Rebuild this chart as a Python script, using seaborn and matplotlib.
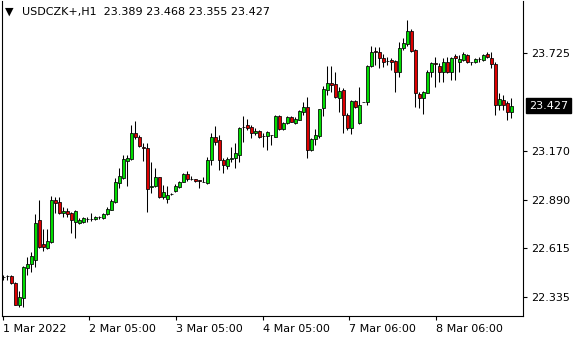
import numpy as np
import pandas as pd
import matplotlib
matplotlib.use("Agg")
import matplotlib.pyplot as plt
import matplotlib.transforms as mtransforms
import seaborn as sns

# ---- data (hourly OHLC) ----
opens = [22.450, 22.456, 22.456, 22.416, 22.291, 22.330, 22.501, 22.524, 22.547, 22.775,
         22.638, 22.615, 22.650, 22.889, 22.878, 22.815, 22.826, 22.815, 22.764, 22.758,
         22.764, 22.781, 22.781, 22.781, 22.792, 22.787, 22.809, 22.832, 22.878, 22.986,
         23.014, 23.111, 23.123, 23.271, 23.248, 23.191, 23.185, 22.963, 22.969, 23.020,
         22.906, 22.895, 22.923, 22.940, 22.963, 22.992, 23.037, 23.009, 23.009, 23.003,
         22.992, 22.986, 23.117, 23.248, 23.231, 23.117, 23.083, 23.123, 23.128, 23.146,
         23.305, 23.317, 23.305, 23.271, 23.282, 23.254, 23.254, 23.260, 23.248, 23.368,
         23.294, 23.328, 23.362, 23.328, 23.345, 23.391, 23.419, 23.174, 23.237, 23.254,
         23.413, 23.516, 23.556, 23.550, 23.470, 23.516, 23.374, 23.300, 23.453, 23.328,
         23.448, 23.448, 23.653, 23.738, 23.733, 23.698, 23.681, 23.687, 23.681, 23.619,
         23.755, 23.778, 23.852, 23.744, 23.493, 23.470, 23.499, 23.619, 23.670, 23.653,
         23.619, 23.676, 23.619, 23.710, 23.676, 23.687, 23.716, 23.676, 23.676, 23.693,
         23.687, 23.721, 23.698, 23.664, 23.431, 23.459, 23.442, 23.389]
highs = [22.462, 22.462, 22.462, 22.422, 22.370, 22.513, 22.564, 22.593, 22.809, 22.889,
         22.724, 22.724, 22.912, 22.906, 22.906, 22.849, 22.843, 22.821, 22.830, 22.787,
         22.792, 22.792, 22.815, 22.798, 22.798, 22.815, 22.849, 22.895, 23.014, 23.071,
         23.146, 23.146, 23.317, 23.339, 23.260, 23.214, 23.214, 23.106, 23.071, 23.022,
         22.975, 22.969, 22.929, 22.980, 22.997, 23.043, 23.054, 23.026, 23.011, 23.005,
         23.020, 23.134, 23.271, 23.311, 23.260, 23.128, 23.134, 23.191, 23.214, 23.305,
         23.368, 23.351, 23.317, 23.300, 23.288, 23.271, 23.282, 23.262, 23.374, 23.374,
         23.334, 23.368, 23.368, 23.362, 23.402, 23.448, 23.476, 23.240, 23.294, 23.410,
         23.539, 23.653, 23.653, 23.619, 23.533, 23.527, 23.385, 23.459, 23.459, 23.533,
         23.450, 23.659, 23.767, 23.761, 23.761, 23.721, 23.704, 23.698, 23.687, 23.790,
         23.812, 23.915, 23.864, 23.750, 23.505, 23.510, 23.630, 23.676, 23.704, 23.670,
         23.698, 23.704, 23.704, 23.721, 23.716, 23.733, 23.721, 23.678, 23.698, 23.704,
         23.721, 23.733, 23.733, 23.676, 23.499, 23.488, 23.453, 23.468]
lows = [22.433, 22.433, 22.410, 22.288, 22.279, 22.279, 22.462, 22.479, 22.507, 22.615,
        22.598, 22.610, 22.645, 22.815, 22.809, 22.792, 22.792, 22.701, 22.672, 22.752,
        22.760, 22.764, 22.769, 22.775, 22.781, 22.781, 22.804, 22.830, 22.872, 22.957,
        23.009, 22.969, 23.117, 23.237, 23.191, 23.111, 22.821, 22.929, 22.963, 22.900,
        22.895, 22.872, 22.918, 22.935, 22.960, 22.990, 22.997, 23.003, 22.992, 22.957,
        22.990, 22.980, 23.089, 23.203, 23.060, 23.043, 23.066, 23.106, 23.071, 23.106,
        23.220, 23.288, 23.242, 23.260, 23.242, 23.191, 23.174, 23.203, 23.246, 23.288,
        23.288, 23.322, 23.334, 23.322, 23.343, 23.374, 23.128, 23.168, 23.203, 23.242,
        23.368, 23.488, 23.505, 23.470, 23.391, 23.271, 23.288, 23.265, 23.413, 23.322,
        23.446, 23.431, 23.647, 23.659, 23.641, 23.647, 23.659, 23.630, 23.505, 23.590,
        23.744, 23.767, 23.733, 23.419, 23.413, 23.379, 23.497, 23.590, 23.533, 23.562,
        23.562, 23.613, 23.573, 23.573, 23.619, 23.681, 23.670, 23.659, 23.670, 23.676,
        23.681, 23.698, 23.641, 23.374, 23.402, 23.402, 23.345, 23.355]
closes = [22.451, 22.455, 22.416, 22.291, 22.336, 22.507, 22.524, 22.570, 22.758, 22.621,
          22.621, 22.655, 22.889, 22.872, 22.815, 22.826, 22.809, 22.775, 22.826, 22.775,
          22.787, 22.782, 22.781, 22.792, 22.793, 22.809, 22.838, 22.883, 22.992, 23.026,
          23.123, 23.128, 23.271, 23.248, 23.197, 23.185, 22.952, 22.969, 23.020, 22.906,
          22.935, 22.918, 22.924, 22.969, 22.992, 23.037, 23.009, 23.010, 22.997, 22.997,
          22.993, 23.117, 23.248, 23.220, 23.117, 23.089, 23.123, 23.128, 23.157, 23.300,
          23.306, 23.300, 23.271, 23.282, 23.248, 23.255, 23.277, 23.261, 23.368, 23.294,
          23.328, 23.362, 23.334, 23.351, 23.396, 23.419, 23.174, 23.237, 23.260, 23.408,
          23.522, 23.556, 23.545, 23.476, 23.510, 23.374, 23.300, 23.453, 23.419, 23.431,
          23.448, 23.653, 23.733, 23.733, 23.698, 23.676, 23.682, 23.676, 23.619, 23.755,
          23.784, 23.852, 23.738, 23.499, 23.470, 23.505, 23.619, 23.670, 23.664, 23.619,
          23.676, 23.619, 23.698, 23.698, 23.693, 23.721, 23.676, 23.677, 23.693, 23.694,
          23.716, 23.704, 23.664, 23.431, 23.465, 23.431, 23.391, 23.427]

time_labels = ["1 Mar 2022", "2 Mar 05:00", "3 Mar 05:00",
               "4 Mar 05:00", "7 Mar 06:00", "8 Mar 06:00"]
time_label_bars = [0, 21.4, 43.2, 64.9, 86.4, 108.2]
price_ticks = [22.335, 22.615, 22.890, 23.170, 23.725]
last_price = 23.427
symbol_title = "USDCZK+,H1  23.389 23.468 23.355 23.427"

# ---- styling ----
sns.set_style("white")
plt.rcParams['font.family'] = ['DejaVu Sans']

df = pd.DataFrame({"open": opens, "high": highs, "low": lows, "close": closes})
df["bar"] = np.arange(len(df))
df["bull"] = df["close"] >= df["open"]

fig = plt.figure(figsize=(5.8, 3.4), dpi=100)
fig.patch.set_facecolor("white")
ax = fig.add_axes([2 / 580, 24 / 340, 521 / 580, 315 / 340])
ax.set_facecolor("white")

# wicks
ax.vlines(df["bar"], df["low"], df["high"], color="black", linewidth=0.75, zorder=2)
# bodies
body_colors = ["#00dd00" if b else "#dd0000" for b in df["bull"]]
ax.bar(df["bar"], df["close"] - df["open"], bottom=df["open"], width=0.62,
       color=body_colors, edgecolor="black", linewidth=0.55, zorder=3)

ax.set_xlim(-0.325, 129.9)
ax.set_ylim(22.228, 24.023)

# y axis on the right
ax.yaxis.tick_right()
ax.set_yticks(price_ticks)
ax.set_yticklabels([f"{v:.3f}" for v in price_ticks])
ax.tick_params(axis="y", direction="out", length=3, width=0.8, pad=3,
               labelsize=8, colors="black", right=True, left=False)

ax.set_xticks(time_label_bars)
ax.set_xticklabels(time_labels, ha="left")
ax.tick_params(axis="x", direction="out", length=3, width=0.8, pad=3,
               labelsize=8, colors="black", bottom=True)

for side in ["left", "right", "bottom"]:
    ax.spines[side].set_visible(True)
    ax.spines[side].set_color("black")
    ax.spines[side].set_linewidth(0.8)
ax.spines["top"].set_visible(False)

# current price label
trans = mtransforms.blended_transform_factory(ax.transAxes, ax.transData)
ax.text(1.012, last_price, f"{last_price:.3f}", transform=trans, color="white",
        fontsize=8, va="center", ha="left", zorder=10, clip_on=False,
        bbox=dict(boxstyle="square,pad=0.25", facecolor="black", edgecolor="black"))

# title
fig.text(5 / 580, 1 - 12 / 340, "\u25BC", fontsize=8, va="center", ha="left", color="black")
fig.text(22 / 580, 1 - 12 / 340, symbol_title, fontsize=8, va="center", ha="left",
         color="black", bbox=dict(boxstyle="square,pad=0.2", facecolor="white", edgecolor="none"))

fig.savefig("out.png", dpi=100, facecolor="white")
